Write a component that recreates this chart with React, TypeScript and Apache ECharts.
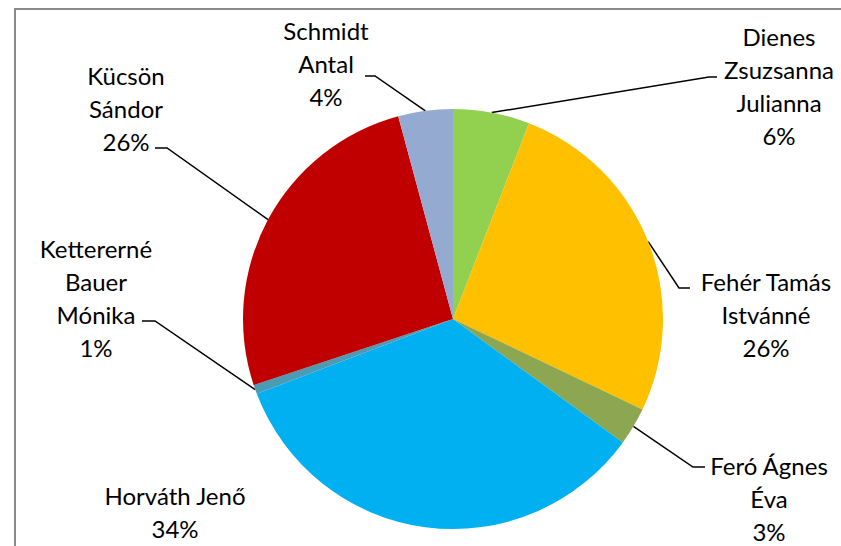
import React, { useEffect, useRef } from "react";
import * as echarts from "echarts";

// ---- data ----
const categories = [
  "Dienes Zsuzsanna Julianna",
  "Fehér Tamás Istvánné",
  "Feró Ágnes Éva",
  "Horváth Jenő",
  "Kettererné Bauer Mónika",
  "Kücsön Sándor",
  "Schmidt Antal",
];
// wrapped label text, as shown on the chart
const labelNames = [
  "Dienes\nZsuzsanna\nJulianna",
  "Fehér Tamás\nIstvánné",
  "Feró Ágnes\nÉva",
  "Horváth Jenő",
  "Kettererné\nBauer\nMónika",
  "Kücsön\nSándor",
  "Schmidt\nAntal",
];
const shares = [5.9, 26.2, 2.9, 34.2, 0.7, 25.9, 4.2];
const colors = ["#92D050", "#FFC000", "#8DA651", "#00B0F0", "#4A9BB3", "#C00000", "#94AAD0"];

// ---- label layout (positions of label blocks and leader-line elbows) ----
const CENTER: [number, number] = [453, 319];
const RADIUS = 210;
const labelLayoutCfg: { x: number; y: number; elbow?: number[]; end?: number[] }[] = [
  { x: 779, y: 86, elbow: [709, 77], end: [717, 77] },
  { x: 766, y: 314, elbow: [679, 288], end: [690, 288] },
  { x: 769, y: 498, elbow: [693, 467], end: [705, 467] },
  { x: 175, y: 512 },
  { x: 96, y: 298, elbow: [155, 321], end: [142, 321] },
  { x: 126, y: 108, elbow: [167, 148], end: [155, 148] },
  { x: 326, y: 63, elbow: [375, 76], end: [365, 76] },
];

export default function App() {
  const ref = useRef<HTMLDivElement>(null);
  useEffect(() => {
    if (!ref.current) return;
    const chart = echarts.init(ref.current, null, { renderer: "svg" });
    const total = shares.reduce((a, b) => a + b, 0);
    const edgePoint = (i: number) => {
      let before = 0;
      for (let k = 0; k < i; k++) before += shares[k];
      const mid = ((before + shares[i] / 2) / total) * Math.PI * 2;
      return [CENTER[0] + RADIUS * Math.sin(mid), CENTER[1] - RADIUS * Math.cos(mid)];
    };
    chart.setOption({
      animation: false,
      backgroundColor: "#ffffff",
      graphic: [
        {
          type: "rect",
          shape: { x: 15, y: 9, width: 900, height: 600 },
          style: { fill: "none", stroke: "#8a8a8a", lineWidth: 2 },
          silent: true,
        },
      ],
      series: [
        {
          type: "pie",
          center: CENTER,
          radius: RADIUS,
          startAngle: 90,
          clockwise: true,
          avoidLabelOverlap: false,
          itemStyle: { borderWidth: 0 },
          emphasis: { disabled: true },
          label: {
            show: true,
            position: "outside",
            color: "#000000",
            fontFamily: "Lato",
            fontSize: 24,
            lineHeight: 33,
            formatter: (p: any) => `${labelNames[p.dataIndex]}\n${Math.round(p.percent)}%`,
          },
          labelLine: {
            show: true,
            lineStyle: { color: "#000000", width: 1.5 },
          },
          labelLayout: (params: any) => {
            const cfg = labelLayoutCfg[params.dataIndex];
            const res: any = { x: cfg.x, y: cfg.y, align: "center", verticalAlign: "middle" };
            if (cfg.elbow && cfg.end) {
              const p0 =
                params.labelLinePoints && params.labelLinePoints[0]
                  ? params.labelLinePoints[0]
                  : edgePoint(params.dataIndex);
              res.labelLinePoints = [p0, cfg.elbow, cfg.end];
            }
            return res;
          },
          data: categories.map((name, i) => ({
            name,
            value: shares[i],
            itemStyle: { color: colors[i] },
            labelLine: { show: !!labelLayoutCfg[i].elbow },
          })),
        },
      ],
    });
    return () => chart.dispose();
  }, []);
  return (
    <div
      ref={ref}
      style={{ position: "absolute", left: 0, top: 0, width: 841, height: 546 }}
    />
  );
}
